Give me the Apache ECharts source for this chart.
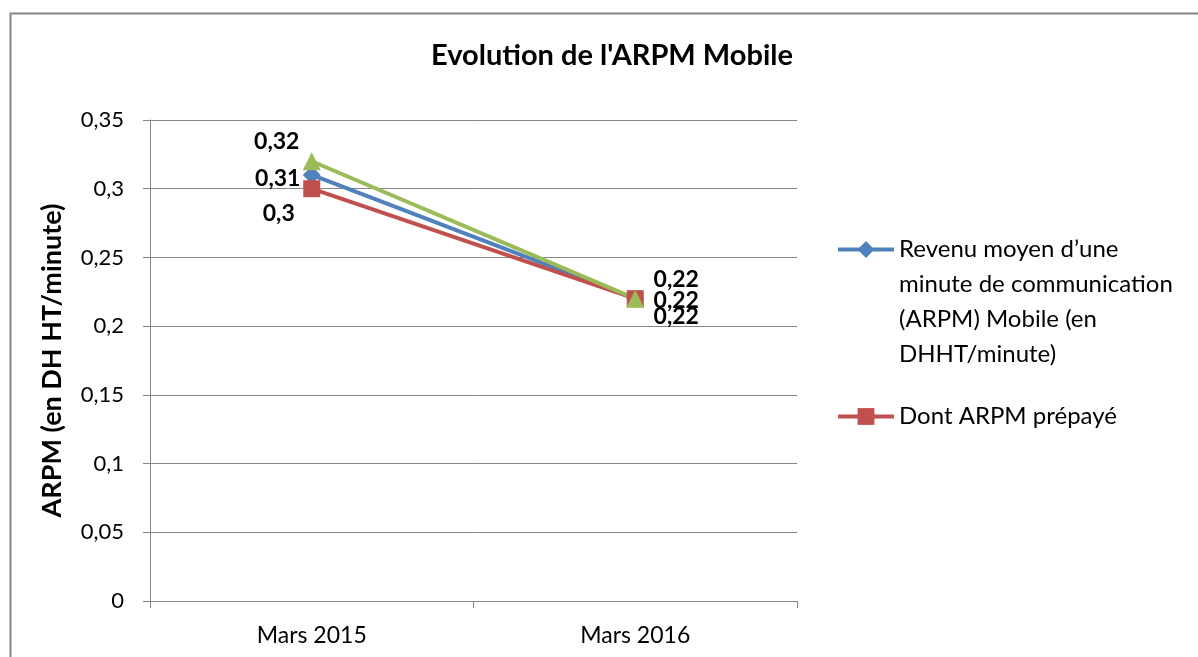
<!DOCTYPE html>
<html lang="fr">
<head>
    <meta charset="UTF-8">
    <title>Evolution de l'ARPM Mobile</title>
    <script src="https://cdn.jsdelivr.net/npm/echarts@6/dist/echarts.min.js"></script>
</head>
<style>
    html,body{
        padding: 0;
        margin: 0;
        background: #fff;
    }
</style>
<body>
<div id="chart" style="width: 1198px;height:657px;"></div>
</body>
<script type="text/javascript">
    // données
    var categories = ['Mars 2015', 'Mars 2016'];
    var arpmMobile = [0.31, 0.22];
    var arpmPrepaye = [0.30, 0.22];
    var serie3 = [0.32, 0.22];
    var yTicks = [0, 0.05, 0.1, 0.15, 0.2, 0.25, 0.3, 0.35];

    var nomMobile = 'Revenu moyen d\u2019une\nminute de communication\n(ARPM) Mobile (en\nDHHT/minute)';
    var nomPrepaye = 'Dont ARPM prépayé';

    var police = 'Lato, "Open Sans", sans-serif';
    var myChart = echarts.init(document.getElementById('chart'));

    function virgule(v) {
        return String(v).replace('.', ',');
    }

    // décalage des étiquettes, par point
    function points(values, offsets) {
        return values.map(function (v, i) {
            return {value: v, label: {offset: offsets[i]}};
        });
    }

    function serie(name, values, color, symbol, size, offsets) {
        return {
            name: name,
            type: 'line',
            data: points(values, offsets),
            symbol: symbol,
            symbolSize: size,
            showAllSymbol: true,
            lineStyle: {color: color, width: 4},
            itemStyle: {color: color},
            label: {
                show: true,
                position: 'inside',
                color: '#000',
                fontFamily: police,
                fontWeight: 'bold',
                fontSize: 23,
                formatter: function (p) { return virgule(p.value); }
            },
            emphasis: {disabled: true},
            animation: false
        };
    }

    var legendeBase = {
        left: 831,
        itemWidth: 56,
        itemHeight: 21,
        lineStyle: {width: 4},
        textStyle: {fontFamily: police, fontSize: 24, color: '#000', lineHeight: 35},
        selectedMode: false
    };

    var option = {
        backgroundColor: '#fff',
        title: {
            text: "Evolution de l'ARPM Mobile",
            left: 607,
            textAlign: 'center',
            top: 36,
            textStyle: {fontFamily: police, fontWeight: 'bold', fontSize: 29, color: '#000'}
        },
        graphic: [{
            type: 'rect',
            shape: {x: 10.5, y: 13.5, width: 1200, height: 700},
            style: {fill: 'none', stroke: '#868686', lineWidth: 2},
            silent: true
        }],
        legend: [
            echarts.util.merge({
                data: [{name: nomMobile}],
                top: 122,
                // lignes vides : le pictogramme reste en face de la 1re ligne
                formatter: function (name) { return '\n\n\n' + name; }
            }, legendeBase),
            echarts.util.merge({
                data: [{name: nomPrepaye}],
                top: 394
            }, legendeBase)
        ],
        grid: {left: 150, right: 401, top: 120, bottom: 56},
        xAxis: {
            type: 'category',
            data: categories,
            axisLine: {lineStyle: {color: '#868686', width: 1}},
            axisTick: {show: true, length: 7, lineStyle: {color: '#868686'}},
            axisLabel: {fontFamily: police, fontSize: 23, color: '#000', margin: 23}
        },
        yAxis: {
            type: 'value',
            min: yTicks[0],
            max: yTicks[yTicks.length - 1],
            interval: yTicks[1] - yTicks[0],
            name: 'ARPM (en DH HT/minute)',
            nameLocation: 'middle',
            nameGap: 84,
            nameTextStyle: {fontFamily: police, fontWeight: 'bold', fontSize: 27, color: '#000'},
            axisLine: {show: true, lineStyle: {color: '#868686', width: 1}},
            axisTick: {show: true, length: 7, lineStyle: {color: '#868686'}},
            splitLine: {lineStyle: {color: '#868686', width: 1}},
            axisLabel: {
                fontFamily: police, fontSize: 22, color: '#000', margin: 26,
                formatter: function (v) { return virgule(Math.round(v * 100) / 100); }
            }
        },
        series: [
            serie(nomMobile, arpmMobile, '#4F81BD', 'diamond', 18, [[-34, 4], [41, 2]]),
            serie(nomPrepaye, arpmPrepaye, '#C0504D', 'rect', 17, [[-33, 25], [41, 18]]),
            serie('Série3', serie3, '#9BBB59', 'triangle', 18, [[-35, -20], [41, -19]])
        ]
    };

    myChart.setOption(option);
</script>
</html>
